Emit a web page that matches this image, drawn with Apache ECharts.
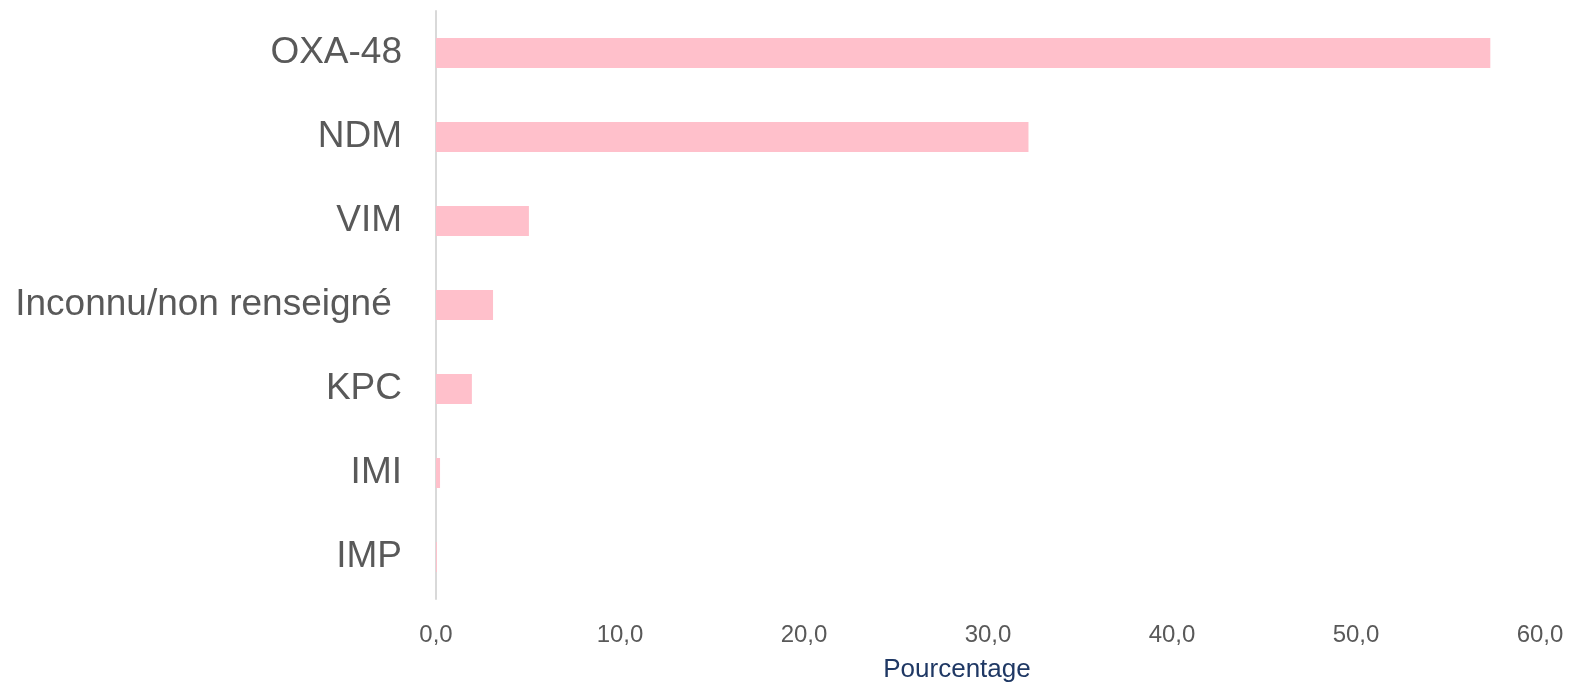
<!DOCTYPE html>
<html>
<head>
<meta charset="utf-8">
<script src="https://cdn.jsdelivr.net/npm/echarts@6/dist/echarts.min.js"></script>
<style>
  html, body { margin: 0; padding: 0; background: #fff; }
  #main { width: 1573px; height: 682px; }
</style>
</head>
<body>
<div id="main"></div>
<script>
// carbapenemase types, top to bottom
var categories = ['OXA-48', 'NDM', 'VIM', 'Inconnu/non renseigné ', 'KPC', 'IMI', 'IMP'];
var pourcentages = [57.3, 32.2, 5.05, 3.1, 1.95, 0.22, 0.05];
var ticks = [0, 10, 20, 30, 40, 50, 60];

var chart = echarts.init(document.getElementById('main'));

var option = {
  animation: false,
  grid: { left: 436, right: 33, top: 11, bottom: 83, containLabel: false, outerBoundsMode: 'none' },
  xAxis: {
    type: 'value',
    min: ticks[0],
    max: ticks[ticks.length - 1],
    interval: 10,
    name: 'Pourcentage',
    nameLocation: 'middle',
    nameGap: 58,
    nameTextStyle: {
      color: '#1f3864',
      fontSize: 26,
      fontFamily: 'Liberation Sans',
      padding: [0, 62, 0, 0]
    },
    axisLine: { show: false },
    axisTick: { show: false },
    splitLine: { show: false },
    axisLabel: {
      color: '#595959',
      fontSize: 24,
      fontFamily: 'Liberation Sans',
      margin: 24,
      formatter: function (v) { return v.toFixed(1).replace('.', ','); }
    }
  },
  yAxis: {
    type: 'category',
    data: categories,
    inverse: true,
    axisLine: { show: true, lineStyle: { color: '#d9d9d9', width: 2 } },
    axisTick: { show: false },
    axisLabel: {
      color: '#595959',
      fontSize: 37,
      fontFamily: 'Liberation Sans',
      margin: 34,
      padding: [14, 0, 0, 0]
    }
  },
  series: [{
    type: 'bar',
    data: pourcentages,
    barWidth: 30,
    itemStyle: { color: '#ffc0cb' }
  }]
};

chart.setOption(option);
window.onresize = chart.resize;
</script>
</body>
</html>
